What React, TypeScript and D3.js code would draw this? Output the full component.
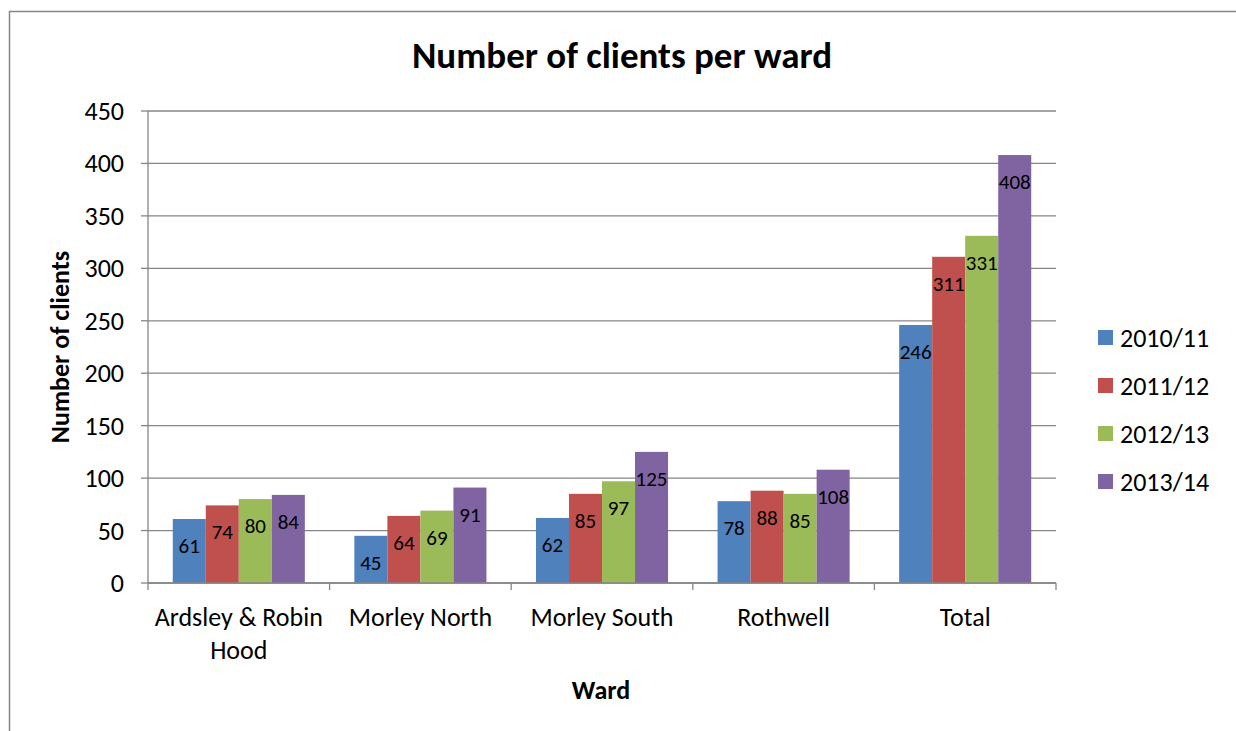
import React from "react";
import * as d3 from "d3";

const categories = ["Ardsley & Robin Hood", "Morley North", "Morley South", "Rothwell", "Total"];
const categoryLines = [["Ardsley & Robin", "Hood"], ["Morley North"], ["Morley South"], ["Rothwell"], ["Total"]];
const seriesNames = ["2010/11", "2011/12", "2012/13", "2013/14"];
const s2010 = [61, 45, 62, 78, 246];
const s2011 = [74, 64, 85, 88, 311];
const s2012 = [80, 69, 97, 85, 331];
const s2013 = [84, 91, 125, 108, 408];
const seriesValues = [s2010, s2011, s2012, s2013];
const colors = ["#4F81BD", "#C0504D", "#9BBB59", "#8064A2"];
const yTicks = [0, 50, 100, 150, 200, 250, 300, 350, 400, 450];

const W = 1236, H = 731;
const left = 148, right = 1056, top = 111, bottom = 583;
const FONT = "Carlito, Calibri, Lato, 'Open Sans', sans-serif";

export default function App() {
  const x = d3.scaleBand<string>().domain(categories).range([left, right]).paddingInner(0).paddingOuter(0);
  const y = d3.scaleLinear().domain([0, 450]).range([bottom, top]);
  const bw = x.bandwidth();
  const barW = bw / 5.5;
  const sub = d3.scaleBand<string>().domain(seriesNames).range([0, barW * 4]);
  const offset = (bw - barW * 4) / 2;
  return (
    <svg width={W} height={H} style={{ position: "absolute", left: 0, top: 0 }} fontFamily={FONT}>
      <rect x={0} y={0} width={W} height={H} fill="white" />
      <rect x={9.5} y={11.5} width={W + 20} height={H + 20} fill="white" stroke="#868686" strokeWidth={1.5} />
      <text x={622} y={55} textAnchor="middle" dominantBaseline="central" fontSize={37} fontWeight="bold">Number of clients per ward</text>
      {yTicks.map((t) => (
        <g key={t}>
          <line x1={left} x2={right} y1={y(t)} y2={y(t)} stroke="#868686" strokeWidth={1.3} />
          <line x1={left - 7} x2={left} y1={y(t)} y2={y(t)} stroke="#868686" strokeWidth={1.3} />
          <text x={124} y={y(t)} textAnchor="end" dominantBaseline="central" fontSize={26}>{t}</text>
        </g>
      ))}
      {seriesValues.map((vals, si) =>
        vals.map((v, ci) => {
          const bx = (x(categories[ci]) as number) + offset + (sub(seriesNames[si]) as number);
          return (
            <g key={si + "-" + ci}>
              <rect x={bx} y={y(v)} width={barW} height={bottom - y(v)} fill={colors[si]} />
              <text x={bx + barW / 2} y={y(v) + 27} textAnchor="middle" dominantBaseline="central" fontSize={21}>{v}</text>
            </g>
          );
        })
      )}
      <line x1={left} x2={left} y1={top} y2={bottom} stroke="#868686" strokeWidth={1.3} />
      <line x1={left} x2={right} y1={bottom} y2={bottom} stroke="#868686" strokeWidth={1.3} />
      {[...categories.map((c) => x(c) as number), right].map((px, i) => (
        <line key={i} x1={px} x2={px} y1={bottom} y2={bottom + 7} stroke="#868686" strokeWidth={1.3} />
      ))}
      {categories.map((c, i) => (
        <text key={c} x={(x(c) as number) + bw / 2} y={617} textAnchor="middle" fontSize={26}>
          {categoryLines[i].map((ln, j) => (
            <tspan key={j} x={(x(c) as number) + bw / 2} y={617 + j * 33} dominantBaseline="central">{ln}</tspan>
          ))}
        </text>
      ))}
      <text x={601} y={690} textAnchor="middle" dominantBaseline="central" fontSize={26} fontWeight="bold">Ward</text>
      <text transform="translate(60,347) rotate(-90)" textAnchor="middle" dominantBaseline="central" fontSize={26} fontWeight="bold">Number of clients</text>
      {seriesNames.map((s, i) => (
        <g key={s}>
          <rect x={1098} y={330 + i * 48} width={15} height={15} fill={colors[i]} />
          <text x={1120} y={338 + i * 48} dominantBaseline="central" fontSize={26}>{s}</text>
        </g>
      ))}
    </svg>
  );
}
